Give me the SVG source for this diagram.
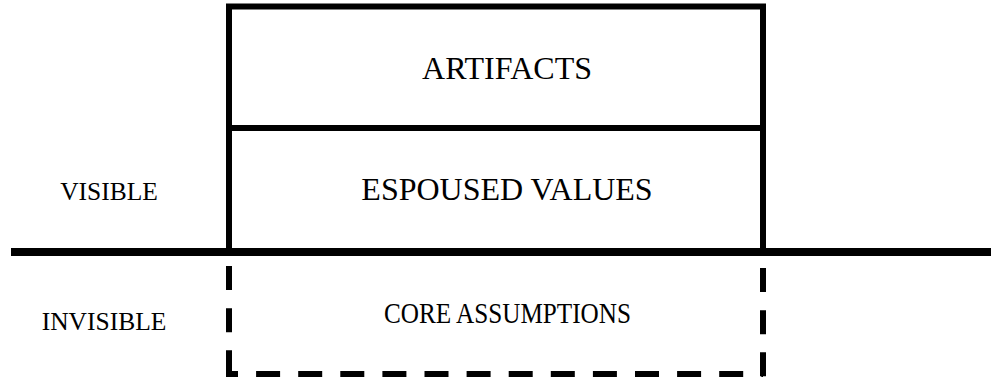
<svg xmlns="http://www.w3.org/2000/svg" width="991" height="379" viewBox="0 0 991 379">
  <style>
    .solid { fill: none; stroke: #000; stroke-width: 6; }
    .dash { fill: none; stroke: #000; stroke-width: 6; stroke-dasharray: 24 18.1; }
    .ground { stroke: #000; stroke-width: 8; }
    .big { font-family: "Liberation Serif", "Times New Roman", serif; font-size: 32px; fill: #000; text-anchor: middle; }
    .side { font-family: "Liberation Serif", "Times New Roman", serif; font-size: 25.5px; fill: #000; text-anchor: middle; }
  </style>
  <rect width="991" height="379" fill="#fff"/>

  <!-- visible layers: artifacts over espoused values -->
  <g id="artifacts">
    <path class="solid" d="M229,128 V6.5 H763 V128"/>
    <text class="big" x="507" y="79">ARTIFACTS</text>
  </g>
  <g id="espoused-values">
    <path class="solid" d="M229,128 H763 M229,128 V252 M763,128 V252"/>
    <text class="big" x="507" y="200">ESPOUSED VALUES</text>
  </g>

  <!-- hidden layer below the waterline -->
  <g id="core-assumptions">
    <line class="dash" x1="229" y1="252" x2="229" y2="377" stroke-dashoffset="28"/>
    <line class="dash" x1="226" y1="374" x2="763" y2="374" stroke-dashoffset="12"/>
    <line class="dash" x1="763" y1="252" x2="763" y2="377" stroke-dashoffset="26"/>
    <text class="big" x="507.5" y="323" style="font-size:30px" textLength="247" lengthAdjust="spacingAndGlyphs">CORE ASSUMPTIONS</text>
  </g>

  <!-- waterline separating visible from invisible -->
  <g id="connectors">
    <line class="ground" x1="11" y1="252" x2="991" y2="252"/>
  </g>

  <g id="visible-label">
    <text class="side" x="109" y="199.5">VISIBLE</text>
  </g>
  <g id="invisible-label">
    <text class="side" x="104" y="329.5">INVISIBLE</text>
  </g>
</svg>
